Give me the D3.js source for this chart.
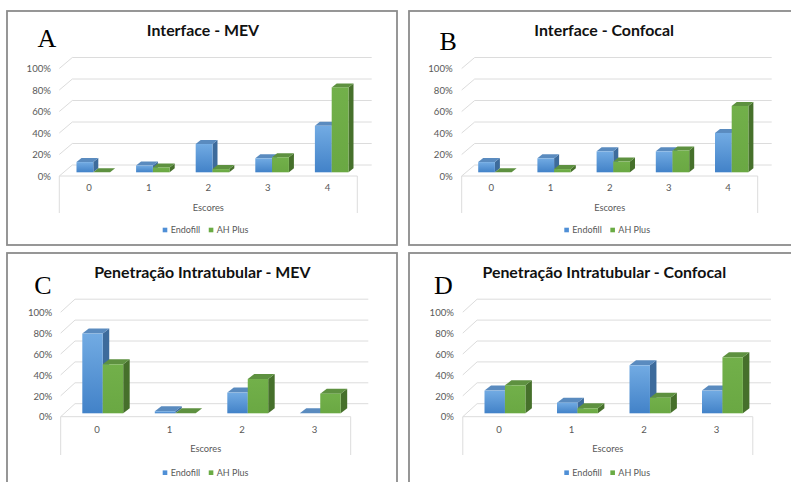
<!DOCTYPE html>
<html>
<head>
<meta charset="utf-8">
<script src="https://cdn.jsdelivr.net/npm/d3@7"></script>
<style>
  body { margin: 0; background: #fff; }
  svg { display: block; }
</style>
</head>
<body>
<svg id="chart" width="791" height="482"></svg>
<script>
// Series and categories
const seriesNames = ["Endofill", "AH Plus"];
const scoresInterface = ["0", "1", "2", "3", "4"];
const scoresPenetracao = ["0", "1", "2", "3"];
const yTickValues = [0, 20, 40, 60, 80, 100];

// Percent of specimens per score
const interfaceMevEndofill = [9.5, 6.3, 26.3, 13, 43.2];
const interfaceMevAhPlus = [0, 4.5, 3, 14, 79];
const interfaceConfocalEndofill = [9.5, 13, 19.5, 19.5, 36.6];
const interfaceConfocalAhPlus = [0, 3, 10, 20.3, 61.7];
const penetracaoMevEndofill = [76.3, 2, 19.8, 0];
const penetracaoMevAhPlus = [46.9, 0, 32.8, 18.8];
const penetracaoConfocalEndofill = [21.7, 10.2, 45.9, 21.7];
const penetracaoConfocalAhPlus = [26.8, 4.8, 15, 53.6];

const panelTitles = ["Interface - MEV", "Interface - Confocal",
                     "Penetração Intratubular - MEV", "Penetração Intratubular - Confocal"];
const panelLetters = ["A", "B", "C", "D"];
const axisTitle = "Escores";

// Panel geometry (pixel layout of each framed chart)
const layouts = [
  { frame: [7, 11, 390, 234], letter: [37.5, 46.8], title: [203, 36],
    ox: 59.3, oy: 176, W: 298, dx: 13, dy: -11, H: 107.5, gridRight: 371.7,
    yLabelX: 51, catY: 188, escY: 207.5, boxBottom: 213, legendY: 230, legendX: 162.7,
    barShift: 4.2, baseUp: 3.7, bdx: 5, bdy: -4 },
  { frame: [409, 11, 400, 234], letter: [439.5, 49.5], title: [604.2, 36],
    ox: 461.7, oy: 176, W: 296, dx: 13, dy: -11, H: 107.5, gridRight: 771.7,
    yLabelX: 452.7, catY: 188, escY: 207.5, boxBottom: 213, legendY: 230, legendX: 564.3,
    barShift: 3.6, baseUp: 3.7, bdx: 5, bdy: -4 },
  { frame: [7, 253, 390, 250], letter: [34.3, 294], title: [202.3, 278.3],
    ox: 60.7, oy: 416.7, W: 290, dx: 14.3, dy: -13, H: 104.5, gridRight: 368.3,
    yLabelX: 52.3, catY: 430, escY: 449, boxBottom: 455, legendY: 472.7, legendX: 162.7,
    barShift: 5.8, baseUp: 3.4, bdx: 6.5, bdy: -5 },
  { frame: [409, 253, 400, 250], letter: [434, 294], title: [604.3, 278.3],
    ox: 462.8, oy: 416.7, W: 290, dx: 14.3, dy: -13, H: 104.5, gridRight: 771,
    yLabelX: 454, catY: 430, escY: 449, boxBottom: 455, legendY: 472.7, legendX: 564.3,
    barShift: 5.9, baseUp: 3.4, bdx: 6.5, bdy: -5 }
];

const panelData = [
  { cats: scoresInterface, values: [interfaceMevEndofill, interfaceMevAhPlus] },
  { cats: scoresInterface, values: [interfaceConfocalEndofill, interfaceConfocalAhPlus] },
  { cats: scoresPenetracao, values: [penetracaoMevEndofill, penetracaoMevAhPlus] },
  { cats: scoresPenetracao, values: [penetracaoConfocalEndofill, penetracaoConfocalAhPlus] }
];

const faceColors = {
  "Endofill": { front: "url(#gradBlue)", top: "#5a8bbf", side: "#3d6b9c", key: "#4f8fd6" },
  "AH Plus":  { front: "url(#gradGreen)", top: "#5e9140", side: "#46702b", key: "#6aab44" }
};

const svg = d3.select("#chart");
const defs = svg.append("defs");

function addGradient(id, c0, c1) {
  const g = defs.append("linearGradient").attr("id", id)
    .attr("x1", 0).attr("y1", 0).attr("x2", 0).attr("y2", 1);
  g.append("stop").attr("offset", "0%").attr("stop-color", c0);
  g.append("stop").attr("offset", "100%").attr("stop-color", c1);
}
addGradient("gradBlue", "#72abe3", "#4282c8");
addGradient("gradGreen", "#72b04a", "#6aa843");

const labelFont = "Lato, 'Open Sans', sans-serif";
const gridColor = "#dcdcdc";
const textGray = "#595959";

panelData.forEach((pd, pi) => {
  const L = layouts[pi];
  const g = svg.append("g");

  // frame
  g.append("rect")
    .attr("x", L.frame[0]).attr("y", L.frame[1])
    .attr("width", L.frame[2]).attr("height", L.frame[3])
    .attr("fill", "none").attr("stroke", "#8c8c8c").attr("stroke-width", 1.8);

  // panel letter
  g.append("text")
    .attr("x", L.letter[0]).attr("y", L.letter[1])
    .attr("font-family", "'Liberation Serif', 'Times New Roman', serif")
    .attr("font-size", 26).attr("fill", "#000")
    .text(panelLetters[pi]);

  // title
  g.append("text")
    .attr("x", L.title[0]).attr("y", L.title[1])
    .attr("text-anchor", "middle")
    .attr("font-family", labelFont).attr("font-weight", "bold")
    .attr("font-size", 15.9).attr("fill", "#111")
    .text(panelTitles[pi]);

  // value scale measured along the front-left edge
  const yFront = d3.scaleLinear().domain([0, 100]).range([L.oy, L.oy - L.H]);

  // gridlines: slanted side wall segment plus back wall line
  const grid = g.append("g").attr("stroke", gridColor).attr("stroke-width", 1).attr("fill", "none");
  yTickValues.forEach(v => {
    const yf = yFront(v);
    grid.append("polyline")
      .attr("points", [[L.ox, yf], [L.ox + L.dx, yf + L.dy], [L.gridRight, yf + L.dy]].map(p => p.join(",")).join(" "));
  });

  // floor front edge and category box
  grid.append("polyline")
    .attr("points", [[L.ox, L.boxBottom], [L.ox, L.oy], [L.ox + L.W, L.oy], [L.ox + L.W, L.boxBottom]].map(p => p.join(",")).join(" "));

  // y axis labels
  const yAxis = d3.axisLeft(yFront).tickValues(yTickValues)
    .tickFormat(d => d + "%").tickSize(0).tickPadding(0);
  const ya = g.append("g").attr("transform", `translate(${L.yLabelX},0)`).call(yAxis);
  ya.select(".domain").remove();
  ya.selectAll("text").attr("font-family", labelFont).attr("font-size", 9.6)
    .attr("fill", textGray).attr("dy", "0.34em");

  // category labels
  const xLab = d3.scaleBand().domain(pd.cats).range([L.ox, L.ox + L.W]);
  const xAxis = d3.axisBottom(xLab).tickSize(0).tickPadding(0);
  const xa = g.append("g").attr("transform", `translate(0,${L.catY})`).call(xAxis);
  xa.select(".domain").remove();
  xa.selectAll("text").attr("font-family", labelFont).attr("font-size", 9.6)
    .attr("fill", textGray).attr("dy", "0.34em");

  // axis title
  g.append("text")
    .attr("x", L.ox + L.W / 2).attr("y", L.escY).attr("dy", "0.34em")
    .attr("text-anchor", "middle")
    .attr("font-family", labelFont).attr("font-size", 9.3).attr("fill", textGray)
    .text(axisTitle);

  // bars
  const xBar = d3.scaleBand().domain(pd.cats).range([L.ox + L.barShift, L.ox + L.barShift + L.W]);
  const band = xBar.bandwidth();
  const pairW = band * 0.564;
  const xSeries = d3.scaleBand().domain(seriesNames).range([0, pairW]);
  const bw = xSeries.bandwidth();
  const base = L.oy - L.baseUp;
  const yBar = d3.scaleLinear().domain([0, 100]).range([base, base - L.H]);

  const bars = g.append("g");
  pd.cats.forEach((c, ci) => {
    seriesNames.forEach((s, si) => {
      const v = pd.values[si][ci];
      const x = xBar(c) + (band - pairW) / 2 + xSeries(s);
      const yt = yBar(v);
      const col = faceColors[s];
      const bar = bars.append("g");
      bar.append("polygon")
        .attr("points", [[x + bw, yt], [x + bw + L.bdx, yt + L.bdy], [x + bw + L.bdx, base + L.bdy], [x + bw, base]]
          .map(p => p.join(",")).join(" "))
        .attr("fill", col.side);
      bar.append("polygon")
        .attr("points", [[x, yt], [x + bw, yt], [x + bw + L.bdx, yt + L.bdy], [x + L.bdx, yt + L.bdy]]
          .map(p => p.join(",")).join(" "))
        .attr("fill", col.top);
      if (base - yt > 0) {
        bar.append("rect")
          .attr("x", x).attr("y", yt).attr("width", bw).attr("height", base - yt)
          .attr("fill", col.front);
      }
    });
  });

  // legend
  const leg = g.append("g").attr("transform", `translate(${L.legendX},${L.legendY})`);
  let lx = 0;
  seriesNames.forEach(s => {
    leg.append("rect").attr("x", lx).attr("y", -2.3).attr("width", 4.6).attr("height", 4.6)
      .attr("fill", faceColors[s].key);
    const t = leg.append("text").attr("x", lx + 8).attr("y", 0).attr("dy", "0.34em")
      .attr("font-family", labelFont).attr("font-size", 9).attr("fill", textGray)
      .text(s);
    lx += 8 + t.node().getComputedTextLength() + 8.5;
  });
});
</script>
</body>
</html>
